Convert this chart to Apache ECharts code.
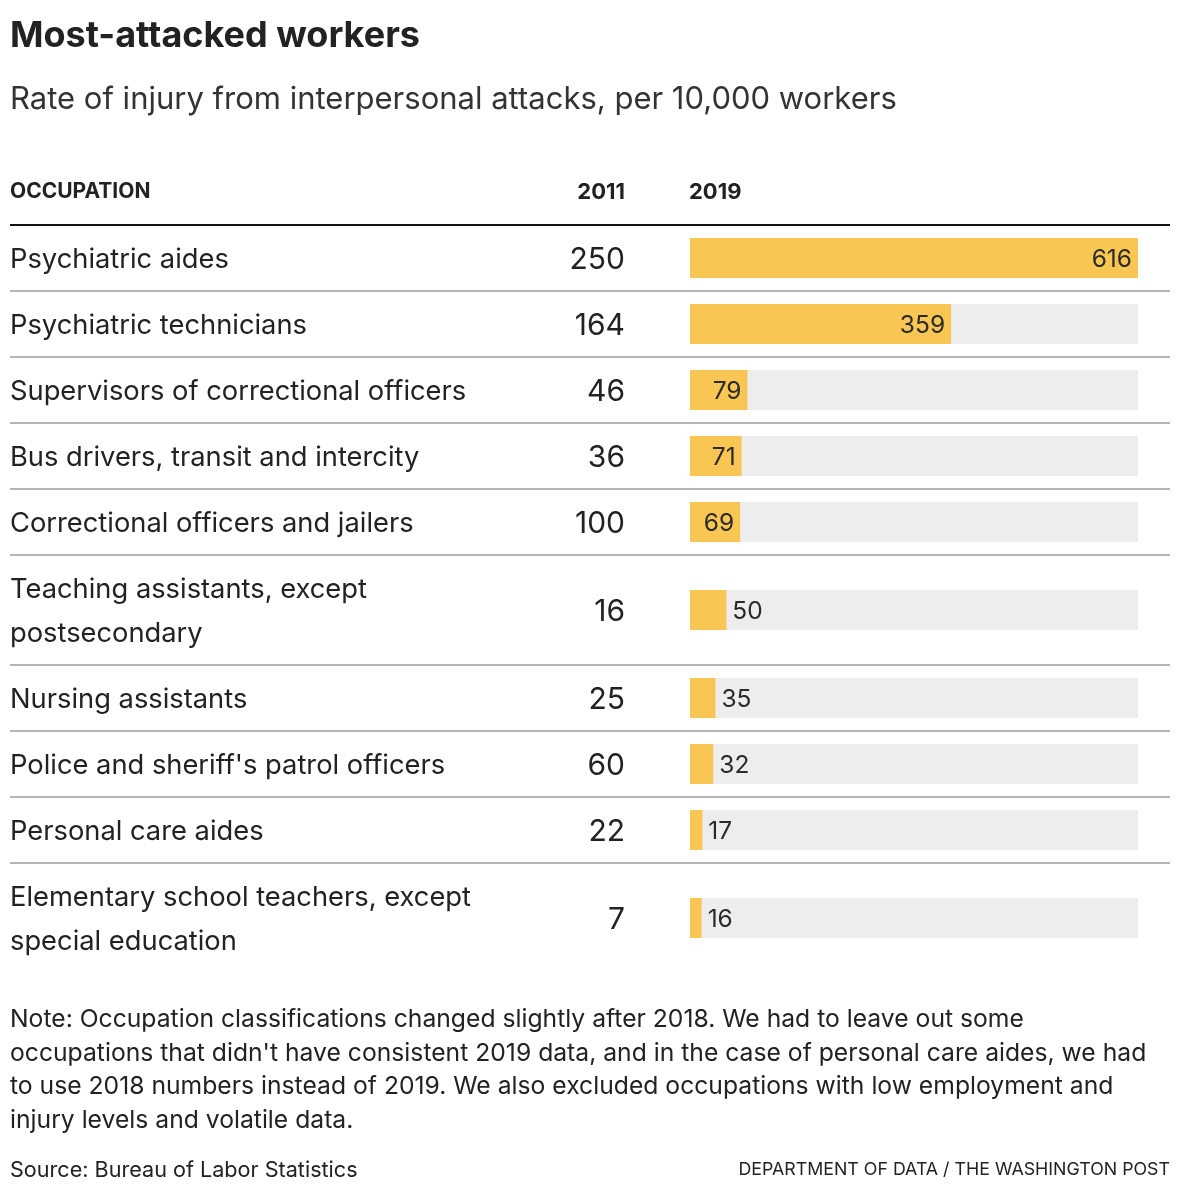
<!DOCTYPE html>
<html>
<head>
<meta charset="utf-8">
<script src="https://cdn.jsdelivr.net/npm/echarts@6/dist/echarts.min.js"></script>
<style>
html,body{margin:0;padding:0;background:#fff;}
#chart{width:1180px;height:1196px;}
</style>
</head>
<body>
<div id="chart"></div>
<script>
const occupations = [
  "Psychiatric aides",
  "Psychiatric technicians",
  "Supervisors of correctional officers",
  "Bus drivers, transit and intercity",
  "Correctional officers and jailers",
  "Teaching assistants, except\npostsecondary",
  "Nursing assistants",
  "Police and sheriff's patrol officers",
  "Personal care aides",
  "Elementary school teachers, except\nspecial education"
];
const rate2011 = [250, 164, 46, 36, 100, 16, 25, 60, 22, 7];
const rate2019 = [616, 359, 79, 71, 69, 50, 35, 32, 17, 16];
const headers = ["OCCUPATION", "2011", "2019"];
const titleText = "Most-attacked workers";
const subtitleText = "Rate of injury from interpersonal attacks, per 10,000 workers";
const noteText = "Note: Occupation classifications changed slightly after 2018. We had to leave out some\noccupations that didn't have consistent 2019 data, and in the case of personal care aides, we had\nto use 2018 numbers instead of 2019. We also excluded occupations with low employment and\ninjury levels and volatile data.";
const sourceText = "Source: Bureau of Labor Statistics";
const creditText = "DEPARTMENT OF DATA / THE WASHINGTON POST";

const FONT = "Inter, Roboto, sans-serif";
const MAXV = Math.max(...rate2019);

// row layout: one-line rows take 3 units, two-line rows 5 units
let cursor = 0;
const rows = occupations.map((name, i) => {
  const units = name.split("\n").length === 1 ? 3 : 5;
  const start = cursor;
  cursor += units;
  return [rate2019[i], start + units / 2, rate2011[i], i, start, cursor];
});
const totalUnits = cursor;

const chart = echarts.init(document.getElementById("chart"), null, {renderer: "canvas"});

function renderItem(params, api) {
  const v = api.value(0), yc = api.value(1), v11 = api.value(2), i = api.value(3);
  const yEnd = api.value(5);
  const p0 = api.coord([0, yc]);
  const pv = api.coord([v, yc]);
  const pm = api.coord([MAXV, yc]);
  const bottom = api.coord([0, yEnd])[1];
  const h = 40;
  const w = pv[0] - p0[0];
  const inside = w > 45;
  const children = [
    {type: "rect", shape: {x: p0[0], y: p0[1] - h / 2, width: pm[0] - p0[0], height: h}, style: {fill: "#ededed"}},
    {type: "rect", shape: {x: p0[0], y: p0[1] - h / 2, width: w, height: h}, style: {fill: "#f9c653"}},
    {type: "text", style: {text: String(v), x: inside ? pv[0] - 6 : pv[0] + 6, y: p0[1] + 2, align: inside ? "right" : "left", verticalAlign: "middle", fill: "#2a2a2a", font: "24.5px " + FONT}},
    {type: "text", style: {text: occupations[i], x: 10, y: p0[1] + 2, align: "left", verticalAlign: "middle", lineHeight: 44, fill: "#222", font: "27.3px " + FONT}},
    {type: "text", style: {text: String(v11), x: 625, y: p0[1] + 2, align: "right", verticalAlign: "middle", fill: "#222", font: "30px " + FONT}}
  ];
  if (i < occupations.length - 1) {
    children.push({type: "line", shape: {x1: 10, y1: bottom, x2: 1170, y2: bottom}, style: {stroke: "#b5b5b5", lineWidth: 2}});
  }
  return {type: "group", children};
}

chart.setOption({
  animation: false,
  grid: {left: 690, right: 42, top: 225, bottom: 223},
  xAxis: {type: "value", min: 0, max: MAXV, show: false},
  yAxis: {type: "value", min: 0, max: totalUnits, inverse: true, show: false},
  series: [{
    type: "custom",
    renderItem: renderItem,
    data: rows,
    encode: {x: 0, y: 1}
  }],
  graphic: [
    {type: "text", x: 10, y: 36, style: {text: titleText, font: "bold 36px " + FONT, fill: "#222", verticalAlign: "middle"}},
    {type: "text", x: 10, y: 100, style: {text: subtitleText, font: "31px " + FONT, fill: "#333", verticalAlign: "middle"}},
    {type: "text", x: 10, y: 192, style: {text: headers[0], font: "bold 21px " + FONT, fill: "#222", verticalAlign: "middle"}},
    {type: "text", x: 625, y: 192, style: {text: headers[1], font: "bold 22px " + FONT, fill: "#222", align: "right", verticalAlign: "middle"}},
    {type: "text", x: 689, y: 192, style: {text: headers[2], font: "bold 22px " + FONT, fill: "#222", align: "left", verticalAlign: "middle"}},
    {type: "line", shape: {x1: 10, y1: 225, x2: 1170, y2: 225}, style: {stroke: "#111", lineWidth: 2}},
    {type: "text", x: 10, y: 1003, style: {text: noteText, font: "24.7px " + FONT, fill: "#222", lineHeight: 33.5, verticalAlign: "top"}},
    {type: "text", x: 10, y: 1170, style: {text: sourceText, font: "21.6px " + FONT, fill: "#222", verticalAlign: "middle"}},
    {type: "text", x: 1170, y: 1170, style: {text: creditText, font: "17.8px " + FONT, fill: "#222", align: "right", verticalAlign: "middle"}}
  ]
});
</script>
</body>
</html>
